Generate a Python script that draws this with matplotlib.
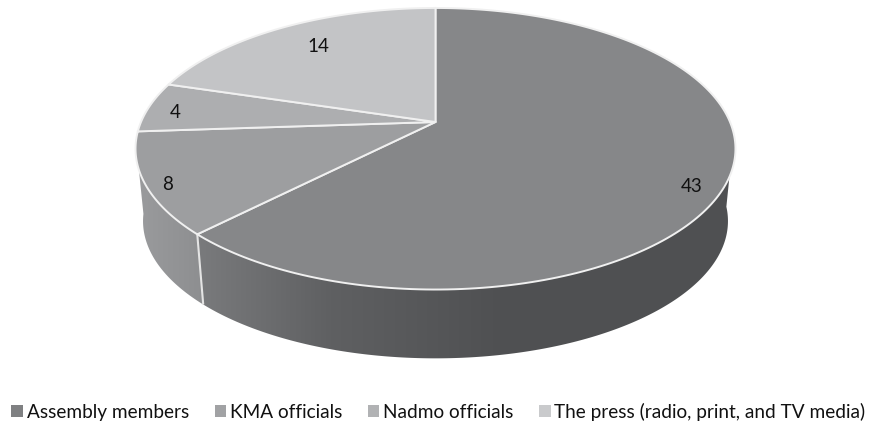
import numpy as np
import matplotlib
matplotlib.use("Agg")
import matplotlib.pyplot as plt
from matplotlib.patches import Polygon, Rectangle
from matplotlib.colors import LinearSegmentedColormap

categories = ["Assembly members", "KMA officials", "Nadmo officials", "The press (radio, print, and TV media)"]
values = [43, 8, 4, 14]
top_colors = ["#868789", "#9d9ea0", "#adaeb0", "#c3c4c6"]
legend_colors = ["#7f8082", "#a1a2a4", "#b1b2b4", "#c9cacc"]
label_pos = [(692, 186.5), (168, 184.5), (175, 113), (318, 46)]

# perspective of the pie disc, in pixels of the output
cx, cy = 435.5, 122
A, B, k = 294.5, 135.7, 0.19
depth_y, depth_scale = 195, 0.975


def top_pt(t):
    t = np.radians(t)
    w = 1 + k * np.cos(t)
    return cx + A * np.sin(t) / w, cy - B * np.cos(t) / w


def bottom_pt(t):
    x, y = top_pt(t)
    return cx + (x - cx) * depth_scale, depth_y + (y - cy) * depth_scale


def side(t0, t1, stops, x0, x1):
    ts = np.linspace(t0, t1, 200)
    tx, ty = top_pt(ts)
    bx, by = bottom_pt(ts[::-1])
    poly = Polygon(np.c_[np.r_[tx, bx], np.r_[ty, by]], closed=True, fc="none", ec="none")
    ax.add_patch(poly)
    cmap = LinearSegmentedColormap.from_list("side", stops)
    im = ax.imshow(np.linspace(0, 1, 256)[None, :], cmap=cmap, vmin=0, vmax=1,
                   extent=(x0, x1, 370, 100), aspect="auto", zorder=1)
    im.set_clip_path(poly)


fig = plt.figure(figsize=(8.77, 4.26), dpi=100)
ax = fig.add_axes([0, 0, 1, 1])

edges = np.r_[0, np.cumsum(values)] / sum(values) * 360

# side walls, only the front part shows
side(95, edges[1], [(0, "#7a7b7d"), (0.25, "#5f6062"), (0.55, "#505153"), (1, "#4f5052")], 195, 735)
side(edges[1], 262, [(0, "#9a9b9d"), (1, "#8c8d8f")], 137, 210)

x0, y0 = top_pt(edges[1])
x1, y1 = bottom_pt(edges[1])
ax.plot([x0, x1], [y0, y1], color="#e4e4e4", lw=1.5, zorder=2, solid_capstyle="butt")

# top face
for i, val in enumerate(values):
    ts = np.linspace(edges[i], edges[i + 1], 200)
    x, y = top_pt(ts)
    ax.add_patch(Polygon(np.c_[np.r_[cx, x], np.r_[cy, y]], closed=True, fc=top_colors[i],
                         ec="#f0f0f0", lw=1.4, zorder=3, joinstyle="round"))
    ax.text(label_pos[i][0], label_pos[i][1], str(val), ha="center", va="center",
            fontsize=13.5, family="Lato", color="#111111", zorder=4)

ax.set_xlim(0, 877)
ax.set_ylim(426, 0)
ax.axis("off")

handles = [Rectangle((0, 0), 1, 1, fc=c, ec="none") for c in legend_colors]
ax.legend(handles, categories, ncol=4, loc="center", bbox_to_anchor=(0.5, 0.033),
          frameon=False, prop={"family": "Lato", "size": 13.7}, handlelength=0.6,
          handleheight=0.6, handletextpad=0.2, columnspacing=1.35, labelcolor="#111111")

fig.savefig("out.png", dpi=100)
